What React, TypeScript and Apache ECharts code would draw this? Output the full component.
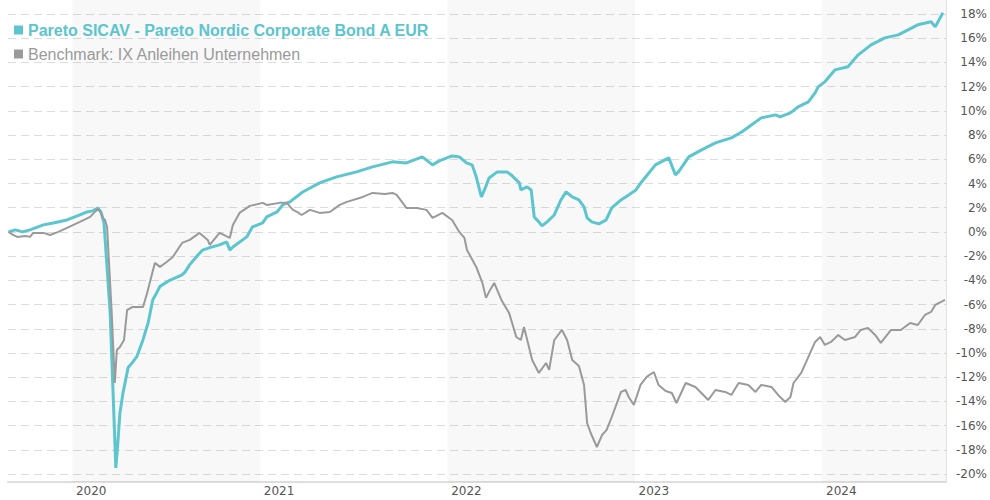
import React, { useEffect, useRef } from "react";
import * as echarts from "echarts";

const fundName = "Pareto SICAV - Pareto Nordic Corporate Bond A EUR";
const benchName = "Benchmark: IX Anleihen Unternehmen";

const fundDates = [
  "2019-08-30", "2019-09-12", "2019-09-26", "2019-10-11", "2019-11-06", "2019-11-25", "2019-12-22",
  "2020-01-16", "2020-01-30", "2020-02-10", "2020-02-20", "2020-02-26", "2020-03-03", "2020-03-15", "2020-03-26", "2020-03-30", "2020-04-03", "2020-04-09", "2020-04-19", "2020-04-27", "2020-05-06", "2020-05-18", "2020-05-28", "2020-06-06", "2020-06-14", "2020-06-20", "2020-07-09", "2020-08-02", "2020-08-08", "2020-08-17", "2020-09-02", "2020-09-11", "2020-09-25", "2020-10-14", "2020-10-28", "2020-11-03", "2020-11-09", "2020-12-06", "2020-12-17",
  "2021-01-06", "2021-01-14", "2021-02-03", "2021-02-14", "2021-02-28", "2021-03-25", "2021-04-27", "2021-05-30", "2021-07-08", "2021-08-08", "2021-09-16", "2021-10-13", "2021-11-13", "2021-12-03", "2021-12-16",
  "2022-01-10", "2022-01-24", "2022-02-07", "2022-02-18", "2022-02-26", "2022-03-08", "2022-03-14", "2022-03-23", "2022-04-08", "2022-04-27", "2022-05-05", "2022-05-21", "2022-05-24", "2022-06-05", "2022-06-13", "2022-06-19", "2022-06-28", "2022-07-04", "2022-07-14", "2022-07-28", "2022-08-10", "2022-08-20", "2022-09-01", "2022-09-14", "2022-09-24", "2022-09-30", "2022-10-09", "2022-10-23", "2022-11-06", "2022-11-17", "2022-12-05", "2022-12-20",
  "2023-01-03", "2023-01-14", "2023-02-10", "2023-03-08", "2023-03-21", "2023-03-27", "2023-04-16", "2023-05-11", "2023-06-07", "2023-06-13", "2023-07-08", "2023-07-28", "2023-08-16", "2023-09-04", "2023-10-02", "2023-10-11", "2023-10-31", "2023-11-15", "2023-12-05", "2023-12-18", "2023-12-24",
  "2024-01-06", "2024-01-26", "2024-02-20", "2024-03-11", "2024-04-05", "2024-05-02", "2024-05-28", "2024-06-16", "2024-07-05", "2024-07-31", "2024-08-08", "2024-08-23",
];
const fundValues = [
  0.0, 0.17, 0.0, 0.17, 0.58, 0.74, 0.99,
  1.4, 1.65, 1.74, 1.98, 1.65, 0.74, -6.69, -19.5, -17.4, -14.96, -13.3, -11.2, -10.8, -10.3, -8.9, -7.5, -5.6, -5.0, -4.5, -4.0, -3.55, -3.3, -2.7, -1.9, -1.5, -1.3, -1.07, -0.83, -1.5, -1.24, -0.41, 0.41,
  0.74, 1.24, 1.65, 2.23, 2.48, 3.3, 4.05, 4.55, 4.96, 5.37, 5.79, 5.7, 6.2, 5.54, 5.87,
  6.28, 6.2, 5.7, 5.54, 4.55, 2.89, 3.47, 4.46, 4.96, 4.96, 4.71, 4.05, 3.47, 3.72, 3.47, 1.24, 0.83, 0.5, 0.83, 1.4, 2.64, 3.31, 2.89, 2.64, 2.07, 1.16, 0.83, 0.66, 0.99, 1.98, 2.64, 3.06,
  3.47, 4.13, 5.54, 6.12, 4.71, 4.96, 6.2, 6.78, 7.36, 7.44, 7.77, 8.26, 8.84, 9.42, 9.67, 9.5, 9.83, 10.33, 10.74, 11.49, 11.98,
  12.4, 13.39, 13.64, 14.63, 15.45, 16.03, 16.28, 16.69, 17.11, 17.36, 16.94, 18.1,
];

const benchDates = [
  "2019-08-30", "2019-09-08", "2019-09-16", "2019-10-02", "2019-10-11", "2019-10-17", "2019-11-06", "2019-11-19", "2019-12-05", "2019-12-22",
  "2020-01-16", "2020-02-05", "2020-02-20", "2020-02-26", "2020-03-01", "2020-03-05", "2020-03-09", "2020-03-18", "2020-03-24", "2020-03-28", "2020-04-03", "2020-04-11", "2020-04-17", "2020-04-28", "2020-05-18", "2020-05-26", "2020-06-04", "2020-06-10", "2020-06-20", "2020-07-03", "2020-07-15", "2020-08-02", "2020-08-17", "2020-09-05", "2020-09-21", "2020-09-25", "2020-10-14", "2020-11-03", "2020-11-09", "2020-11-22", "2020-12-12",
  "2021-01-06", "2021-01-14", "2021-02-08", "2021-02-22", "2021-03-06", "2021-03-14", "2021-03-23", "2021-04-08", "2021-04-27", "2021-05-17", "2021-06-05", "2021-06-19", "2021-07-20", "2021-08-08", "2021-09-01", "2021-09-16", "2021-09-24", "2021-10-13", "2021-11-02", "2021-11-21", "2021-12-03", "2021-12-22",
  "2022-01-10", "2022-01-24", "2022-02-03", "2022-02-08", "2022-02-26", "2022-03-10", "2022-03-17", "2022-03-25", "2022-04-02", "2022-04-16", "2022-05-01", "2022-05-15", "2022-05-24", "2022-05-30", "2022-06-15", "2022-06-28", "2022-07-12", "2022-07-18", "2022-07-28", "2022-08-12", "2022-08-22", "2022-09-01", "2022-09-14", "2022-09-24", "2022-09-30", "2022-10-07", "2022-10-19", "2022-10-29", "2022-11-07", "2022-11-17", "2022-12-05", "2022-12-14", "2022-12-20", "2022-12-30",
  "2023-01-12", "2023-01-24", "2023-02-07", "2023-02-16", "2023-03-02", "2023-03-14", "2023-03-23", "2023-04-10", "2023-04-29", "2023-05-24", "2023-06-07", "2023-06-26", "2023-07-08", "2023-07-22", "2023-08-10", "2023-08-24", "2023-09-04", "2023-09-24", "2023-10-07", "2023-10-21", "2023-10-31", "2023-11-06", "2023-11-21", "2023-12-05", "2023-12-18", "2023-12-28",
  "2024-01-06", "2024-01-18", "2024-02-01", "2024-02-14", "2024-03-05", "2024-03-16", "2024-03-30", "2024-04-13", "2024-04-24", "2024-05-14", "2024-06-02", "2024-06-20", "2024-07-05", "2024-07-19", "2024-07-31", "2024-08-08", "2024-08-27",
];
const benchValues = [
  0.0, -0.25, -0.41, -0.33, -0.41, -0.08, -0.08, -0.25, 0.0, 0.33,
  0.83, 1.24, 1.9, 1.57, 1.16, 0.99, 0.41, -6.69, -12.48, -9.75, -9.5, -8.93, -6.45, -6.2, -6.2, -5.04, -3.55, -2.56, -2.89, -2.48, -2.07, -0.91, -0.66, -0.08, -0.66, -1.07, -0.08, -0.5, 0.58, 1.57, 2.15,
  2.4, 2.23, 2.4, 2.4, 1.82, 1.65, 1.4, 1.82, 1.57, 1.65, 2.23, 2.48, 2.89, 3.22, 3.14, 3.22, 3.06, 1.98, 1.98, 1.82, 1.16, 1.57,
  0.99, 0.0, -0.5, -1.49, -2.89, -4.21, -5.45, -4.79, -4.21, -5.62, -6.69, -8.68, -8.93, -7.85, -10.58, -11.65, -10.83, -11.4, -8.93, -8.1, -8.93, -10.58, -11.07, -12.64, -15.79, -16.61, -17.77, -16.78, -16.36, -15.29, -13.22, -13.06, -13.64, -14.3,
  -12.64, -11.98, -11.57, -12.64, -13.14, -13.31, -14.13, -12.48, -12.81, -13.88, -13.06, -13.22, -13.47, -12.48, -12.64, -13.22, -12.64, -12.81, -13.47, -14.05, -13.64, -12.48, -11.65, -10.33, -9.09, -8.68,
  -9.34, -9.09, -8.51, -8.93, -8.68, -8.1, -7.93, -8.51, -9.17, -8.1, -8.1, -7.52, -7.69, -6.86, -6.61, -6.03, -5.62,
];

const axisStart = "2019-08-29";
const axisEnd = "2024-08-29";
const yearLabelDates = ["2020-02-07", "2021-02-07", "2022-02-07", "2023-02-07", "2024-02-07"];
const shadedYears = [
  ["2020-01-01", "2021-01-01"],
  ["2022-01-01", "2023-01-01"],
  ["2024-01-01", "2024-08-29"],
];
const yMin = -20.66;
const yMax = 19.16;

const fundColor = "#5cc5cd";
const benchColor = "#9a9a9a";

const ts = (d: string) => Date.parse(d + "T00:00:00Z");

export default function App() {
  const ref = useRef<HTMLDivElement>(null);
  useEffect(() => {
    if (!ref.current) return;
    const chart = echarts.init(ref.current, undefined, { renderer: "svg" });
    const fundData = fundDates.map((d, i) => [ts(d), fundValues[i]]);
    const benchData = benchDates.map((d, i) => [ts(d), benchValues[i]]);
    chart.setOption({
      animation: false,
      grid: { left: 8, right: 42, top: 0, bottom: 18 },
      legend: {
        orient: "vertical",
        left: 14,
        top: 22,
        padding: 0,
        itemGap: 8,
        itemWidth: 9,
        itemHeight: 9,
        icon: "rect",
        textStyle: { fontFamily: "'Liberation Sans', Arial, sans-serif", fontSize: 16 },
        data: [
          { name: fundName, textStyle: { color: fundColor, fontWeight: "bold" } },
          { name: benchName, textStyle: { color: benchColor } },
        ],
      },
      xAxis: {
        type: "value",
        min: ts(axisStart),
        max: ts(axisEnd),
        axisLine: { show: true, onZero: false, lineStyle: { color: "#dedede", width: 2 } },
        axisTick: { show: false },
        splitLine: { show: false },
        axisLabel: {
          customValues: yearLabelDates.map(ts),
          formatter: (v: number) => String(new Date(v).getUTCFullYear()),
          color: "#555",
          fontFamily: "'DejaVu Sans', Verdana, sans-serif",
          fontSize: 12,
          margin: 3,
        },
      },
      yAxis: {
        type: "value",
        position: "right",
        min: yMin,
        max: yMax,
        minInterval: 2,
        maxInterval: 2,
        axisLine: { show: true, lineStyle: { color: "#e2e2e2", width: 1 } },
        axisTick: { show: false },
        splitLine: {
          show: true,
          showMinLine: false,
          showMaxLine: false,
          lineStyle: { color: "#dddddd", type: [8, 5], width: 1 },
        },
        axisLabel: {
          showMinLabel: false,
          showMaxLabel: false,
          align: "right",
          margin: 41,
          color: "#555",
          fontFamily: "'DejaVu Sans', Verdana, sans-serif",
          fontSize: 12,
          formatter: (v: number) => `${Math.round(v)}%`,
        },
      },
      series: [
        {
          name: fundName,
          type: "line",
          data: fundData,
          showSymbol: false,
          symbol: "none",
          color: fundColor,
          lineStyle: { color: fundColor, width: 3 },
          markArea: {
            silent: true,
            itemStyle: { color: "rgba(0,0,0,0.028)" },
            data: shadedYears.map(([a, b]) => [{ xAxis: ts(a) }, { xAxis: ts(b) }]),
          },
        },
        {
          name: benchName,
          type: "line",
          data: benchData,
          showSymbol: false,
          symbol: "none",
          color: benchColor,
          lineStyle: { color: benchColor, width: 2 },
        },
      ],
    });
    return () => chart.dispose();
  }, []);
  return (
    <div
      ref={ref}
      style={{ position: "absolute", left: 0, top: 0, width: 990, height: 500 }}
    />
  );
}
